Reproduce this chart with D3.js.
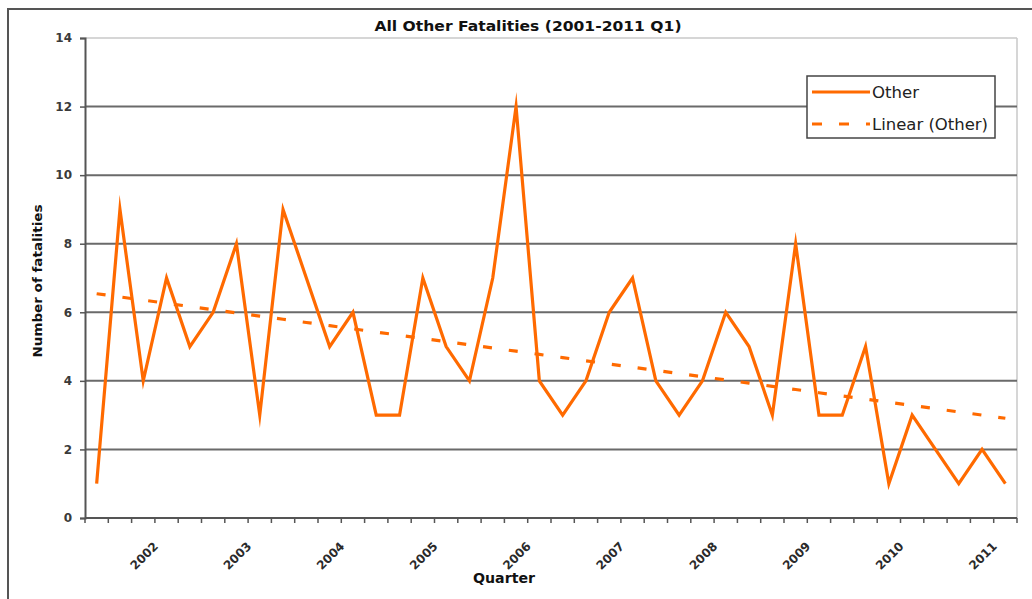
<!DOCTYPE html>
<html>
<head>
<meta charset="utf-8">
<script src="https://cdn.jsdelivr.net/npm/d3@7"></script>
<style>
  html, body { margin: 0; padding: 0; background: #fff; }
  svg { display: block; font-family: "DejaVu Sans", sans-serif; }
</style>
</head>
<body>
<svg id="chart" width="1032" height="599"></svg>
<script>
// ---- data ----
const quarters = [
  "2001 Q2","2001 Q3","2001 Q4",
  "2002 Q1","2002 Q2","2002 Q3","2002 Q4",
  "2003 Q1","2003 Q2","2003 Q3","2003 Q4",
  "2004 Q1","2004 Q2","2004 Q3","2004 Q4",
  "2005 Q1","2005 Q2","2005 Q3","2005 Q4",
  "2006 Q1","2006 Q2","2006 Q3","2006 Q4",
  "2007 Q1","2007 Q2","2007 Q3","2007 Q4",
  "2008 Q1","2008 Q2","2008 Q3","2008 Q4",
  "2009 Q1","2009 Q2","2009 Q3","2009 Q4",
  "2010 Q1","2010 Q2","2010 Q3","2010 Q4",
  "2011 Q1"
];
const otherValues = [
  1, 9, 4,
  7, 5, 6, 8,
  3, 9, 7, 5,
  6, 3, 3, 7,
  5, 4, 7, 12,
  4, 3, 4, 6,
  7, 4, 3, 4,
  6, 5, 3, 8,
  3, 3, 5, 1,
  3, 2, 1, 2,
  1
];
const yTicks = [0, 2, 4, 6, 8, 10, 12, 14];
const xTickLabels = ["2002","2003","2004","2005","2006","2007","2008","2009","2010","2011"];
const titleText = "All Other Fatalities (2001-2011 Q1)";
const yTitle = "Number of fatalities";
const xTitle = "Quarter";
const seriesNames = ["Other", "Linear (Other)"];

// ---- layout ----
const W = 1032, H = 599;
const M = { left: 85, right: 1017, top: 38, bottom: 518 };
const orange = "#FF6A00";

const svg = d3.select("#chart");

// outer chart frame
svg.append("rect").attr("x", 8).attr("y", 9).attr("width", 1100).attr("height", 700)
  .attr("fill", "#fff").attr("stroke", "#555").attr("stroke-width", 2);

const x = d3.scaleBand().domain(quarters).range([M.left, M.right]).padding(0);
const y = d3.scaleLinear().domain([0, 14]).range([M.bottom, M.top]);
const cx = d => x(d) + x.bandwidth() / 2;

// plot area border (light)
svg.append("line").attr("x1", M.left).attr("x2", M.right).attr("y1", y(14)).attr("y2", y(14))
  .attr("stroke", "#c8c8c8").attr("stroke-width", 1.5);
svg.append("line").attr("x1", M.right).attr("x2", M.right).attr("y1", y(14)).attr("y2", y(0))
  .attr("stroke", "#c8c8c8").attr("stroke-width", 1.5);

// gridlines
svg.append("g").selectAll("line").data(yTicks.filter(t => t > 0 && t < 14)).join("line")
  .attr("x1", M.left).attr("x2", M.right)
  .attr("y1", d => y(d)).attr("y2", d => y(d))
  .attr("stroke", "#6a6a6a").attr("stroke-width", 2);

// y axis
const yAxis = svg.append("g").attr("transform", `translate(${M.left},0)`)
  .call(d3.axisLeft(y).tickValues(yTicks).tickSize(5).tickPadding(8).tickFormat(d3.format("d")));
yAxis.select(".domain").attr("stroke", "#555").attr("stroke-width", 2);
yAxis.selectAll(".tick line").attr("stroke", "#555").attr("stroke-width", 1.5);
yAxis.selectAll(".tick text").attr("font-family", "DejaVu Sans").attr("font-size", 12)
  .attr("font-weight", "bold").attr("fill", "#3a3a3a");

// x axis: ticks at category boundaries
const xg = svg.append("g");
xg.append("line").attr("x1", M.left).attr("x2", M.right).attr("y1", M.bottom).attr("y2", M.bottom)
  .attr("stroke", "#555").attr("stroke-width", 2);
const boundaries = quarters.map(q => x(q)).concat([M.right]);
xg.selectAll("line.tk").data(boundaries).join("line").attr("class", "tk")
  .attr("x1", d => d).attr("x2", d => d).attr("y1", M.bottom).attr("y2", M.bottom + 5)
  .attr("stroke", "#555").attr("stroke-width", 1.5);

// year labels on Q1 categories
const labelled = quarters.filter(q => q.endsWith("Q1") && xTickLabels.includes(q.slice(0, 4)));
xg.selectAll("text.yl").data(labelled).join("text").attr("class", "yl")
  .attr("transform", d => `translate(${x(d) + 1},${M.bottom + 26}) rotate(-45)`)
  .attr("text-anchor", "end").attr("dy", "0.35em")
  .attr("font-size", 12).attr("font-weight", "bold").attr("fill", "#2a2a2a")
  .text(d => xTickLabels[xTickLabels.indexOf(d.slice(0, 4))]);

// trend line (least squares on the series)
const n = otherValues.length;
const idx = d3.range(n);
const mx = d3.mean(idx), my = d3.mean(otherValues);
const slope = d3.sum(idx, i => (i - mx) * (otherValues[i] - my)) / d3.sum(idx, i => (i - mx) ** 2);
const icpt = my - slope * mx;
const trend = idx.map(i => icpt + slope * i);

const line = d3.line().x((d, i) => cx(quarters[i])).y(d => y(d));

svg.append("path").datum(trend).attr("d", line)
  .attr("fill", "none").attr("stroke", orange).attr("stroke-width", 3.2)
  .attr("stroke-dasharray", "9,17");

svg.append("path").datum(otherValues).attr("d", line)
  .attr("fill", "none").attr("stroke", orange).attr("stroke-width", 3.2)
  .attr("stroke-linejoin", "miter").attr("stroke-miterlimit", 10);

// title
svg.append("text").attr("x", 528).attr("y", 31).attr("text-anchor", "middle")
  .attr("font-size", 13.5).attr("font-weight", "bold").attr("fill", "#111")
  .attr("class", "fit").attr("data-w", 307).text(titleText);

// axis titles
svg.append("text").attr("transform", "translate(37,281) rotate(-90)")
  .attr("text-anchor", "middle").attr("dy", "0.35em")
  .attr("font-size", 13).attr("font-weight", "bold").attr("fill", "#111")
  .attr("class", "fit").attr("data-w", 153).text(yTitle);
svg.append("text").attr("x", 504).attr("y", 578).attr("text-anchor", "middle").attr("dy", "0.35em")
  .attr("font-size", 13.5).attr("font-weight", "bold").attr("fill", "#111")
  .attr("class", "fit").attr("data-w", 62).text(xTitle);

// legend
const lg = svg.append("g");
lg.append("rect").attr("x", 807).attr("y", 76).attr("width", 188).attr("height", 62)
  .attr("fill", "#fff").attr("stroke", "#444").attr("stroke-width", 1.5);
const legendRows = [{ name: seriesNames[0], dash: null, y: 92, w: 47 },
                    { name: seriesNames[1], dash: "10,17", y: 124, w: 116 }];
legendRows.forEach(r => {
  lg.append("line").attr("x1", 812).attr("x2", 870).attr("y1", r.y).attr("y2", r.y)
    .attr("stroke", orange).attr("stroke-width", 3.2)
    .attr("stroke-dasharray", r.dash);
  lg.append("text").attr("x", 872).attr("y", r.y).attr("dy", "0.35em")
    .attr("font-size", 16).attr("fill", "#222")
    .attr("class", "fit").attr("data-w", r.w).text(r.name);
});

// fit widths of titled texts
svg.selectAll("text.fit").each(function () {
  const t = d3.select(this);
  t.attr("textLength", +t.attr("data-w")).attr("lengthAdjust", "spacingAndGlyphs");
});
</script>
</body>
</html>
